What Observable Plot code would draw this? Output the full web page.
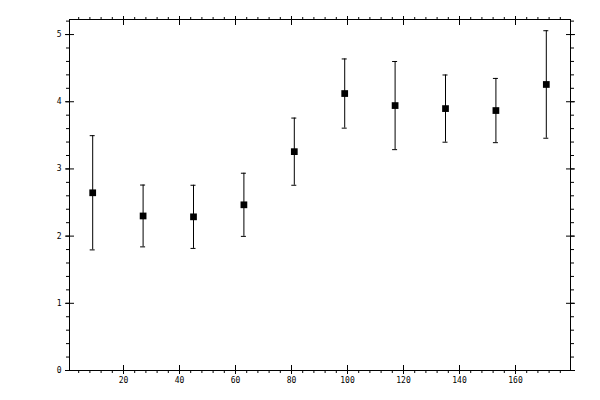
<!DOCTYPE html>
<html>
<head>
<meta charset="utf-8">
<script src="https://cdn.jsdelivr.net/npm/d3@7"></script>
<script src="https://cdn.jsdelivr.net/npm/@observablehq/plot@0.6"></script>
<style>
  html, body { margin: 0; padding: 0; background: #fff; }
  #chart svg { display: block; }
</style>
</head>
<body>
<div id="chart"></div>
<script>
// Data
const xValues = [9, 27, 45, 63, 81, 99, 117, 135, 153, 171];
const yValues = [2.645, 2.30, 2.287, 2.466, 3.257, 4.122, 3.943, 3.898, 3.869, 4.257];
const yErrors = [0.85, 0.46, 0.47, 0.47, 0.50, 0.515, 0.656, 0.50, 0.478, 0.80];

// Tick values
const xMajorTicks = [20, 40, 60, 80, 100, 120, 140, 160];
const xMinorTicks = d3.range(4, 180, 4);
const yMajorTicks = [0, 1, 2, 3, 4, 5];
const yMinorTicks = d3.range(1, 27).map(i => +(i * 0.2).toFixed(1));

const data = xValues.map((x, i) => ({
  x, y: yValues[i], lo: yValues[i] - yErrors[i], hi: yValues[i] + yErrors[i]
}));

const font = {fontSize: 8, fontFamily: "DejaVu Sans Mono", tickFormat: d => String(d)};

const chart = Plot.plot({
  width: 600,
  height: 400,
  marginLeft: 69,
  marginRight: 30,
  marginTop: 19,
  marginBottom: 30,
  style: {background: "#fff", color: "#000", fontFamily: "DejaVu Sans Mono", fontSize: "8px"},
  x: {domain: [0.714, 179.64], label: null},
  y: {domain: [0, 5.224], label: null},
  marks: [
    Plot.frame({stroke: "#000", strokeWidth: 1}),
    // bottom axis
    Plot.axisX(xMinorTicks, {anchor: "bottom", tickSize: 3, fill: "none", label: null}),
    Plot.axisX(xMajorTicks, {anchor: "bottom", tickSize: 9, dy: -5, fill: "none", label: null}),
    Plot.axisX(xMajorTicks, {anchor: "bottom", tickSize: 0, tickPadding: 7, label: null, ...font}),
    // top axis
    Plot.axisX(xMinorTicks, {anchor: "top", tickSize: 3, fill: "none", label: null}),
    Plot.axisX(xMajorTicks, {anchor: "top", tickSize: 9, dy: 5, fill: "none", label: null}),
    // left axis
    Plot.axisY(yMinorTicks, {anchor: "left", tickSize: 3, fill: "none", label: null}),
    Plot.axisY(yMajorTicks, {anchor: "left", tickSize: 9, dx: 5, fill: "none", label: null}),
    Plot.axisY(yMajorTicks, {anchor: "left", tickSize: 0, tickPadding: 8, label: null, ...font}),
    // right axis
    Plot.axisY(yMinorTicks, {anchor: "right", tickSize: 3, fill: "none", label: null}),
    Plot.axisY(yMajorTicks, {anchor: "right", tickSize: 9, dx: -5, fill: "none", label: null}),
    // error bars
    Plot.ruleX(data, {x: "x", y1: "lo", y2: "hi", stroke: "#000", strokeWidth: 1}),
    Plot.ruleY(data, {y: "hi", x1: "x", x2: "x", insetLeft: -2.5, insetRight: -2.5, stroke: "#000", strokeWidth: 1}),
    Plot.ruleY(data, {y: "lo", x1: "x", x2: "x", insetLeft: -2.5, insetRight: -2.5, stroke: "#000", strokeWidth: 1}),
    // markers
    Plot.dot(data, {x: "x", y: "y", symbol: "square", r: 3.8, fill: "#000", stroke: "none"})
  ]
});
document.getElementById("chart").append(chart);
</script>
</body>
</html>
